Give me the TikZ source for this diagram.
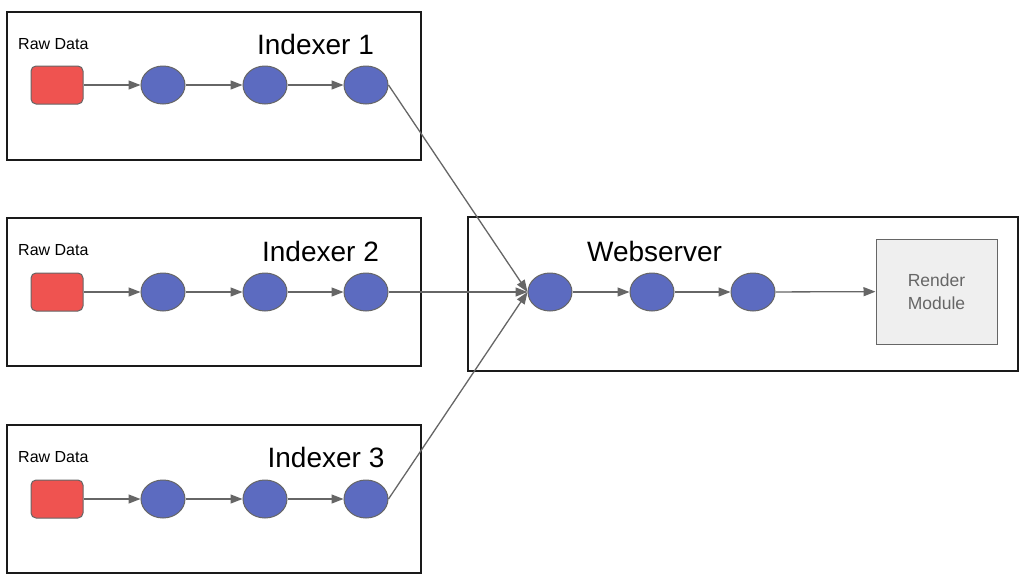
\documentclass[tikz,border=0pt]{standalone}
\usepackage{fontspec}
\setmainfont{Liberation Sans}
\usetikzlibrary{arrows.meta,shapes.geometric}
\definecolor{boxline}{HTML}{1A1A1A}
\definecolor{conn}{HTML}{666666}
\definecolor{rawred}{HTML}{EF5350}
\definecolor{stageblue}{HTML}{5C6BC0}
\definecolor{renderfill}{HTML}{EFEFEF}
\tikzset{
  groupbox/.style={draw=boxline, line width=1.4pt},
  rawbox/.style={draw=conn, fill=rawred, line width=1pt, rounded corners=5pt, minimum width=52pt, minimum height=38pt, inner sep=0pt},
  stage/.style={ellipse, draw=conn, fill=stageblue, line width=1pt, minimum width=44pt, minimum height=38pt, inner sep=0pt},
  renderbox/.style={draw=conn, fill=renderfill, line width=1pt, minimum width=121pt, minimum height=105pt, inner sep=0pt, align=center, text=conn, font=\fontsize{17.5}{23}\selectfont},
  smalllabel/.style={inner sep=0pt, font=\fontsize{16}{18}\selectfont},
  biglabel/.style={inner sep=0pt, font=\fontsize{28}{30}\selectfont},
  conn/.style={draw=conn, line width=1.3pt, -{Triangle[length=12pt,width=9pt]}}
}
\begin{document}
\begin{tikzpicture}[x=1pt,y=-1pt]
\useasboundingbox (0,0) rectangle (1029,587);
\fill[white] (0,0) rectangle (1029,587);
% group boxes
\draw[groupbox] (7,12) rectangle (421,160);
\draw[groupbox] (7,218) rectangle (421,366);
\draw[groupbox] (7,425) rectangle (421,573);
\draw[groupbox] (468,217) rectangle (1018,371);
% labels
\node[smalllabel, anchor=west] (rd1) at (18,44) {Raw Data};
\node[smalllabel, anchor=west] (rd2) at (18,250) {Raw Data};
\node[smalllabel, anchor=west] (rd3) at (18,457) {Raw Data};
\node[biglabel] (t1) at (315.5,44) {Indexer 1};
\node[biglabel] (t2) at (320.5,251) {Indexer 2};
\node[biglabel] (t3) at (326,457) {Indexer 3};
\node[biglabel] (tw) at (654.5,251) {Webserver};
% indexer 1
\node[rawbox] (r1) at (57,85) {};
\node[stage] (i1a) at (163,85) {};
\node[stage] (i1b) at (265,85) {};
\node[stage] (i1c) at (366,85) {};
% indexer 2
\node[rawbox] (r2) at (57,292) {};
\node[stage] (i2a) at (163,292) {};
\node[stage] (i2b) at (265,292) {};
\node[stage] (i2c) at (366,292) {};
% indexer 3
\node[rawbox] (r3) at (57,499) {};
\node[stage] (i3a) at (163,499) {};
\node[stage] (i3b) at (265,499) {};
\node[stage] (i3c) at (366,499) {};
% webserver
\node[stage] (w1) at (550,292) {};
\node[stage] (w2) at (652,292) {};
\node[stage] (w3) at (753,292) {};
\node[renderbox] (rm) at (936.5,291.5) {Render\\Module};
% connectors
\draw[conn] (r1) -- (i1a);
\draw[conn] (i1a) -- (i1b);
\draw[conn] (i1b) -- (i1c);
\draw[conn] (r2) -- (i2a);
\draw[conn] (i2a) -- (i2b);
\draw[conn] (i2b) -- (i2c);
\draw[conn] (r3) -- (i3a);
\draw[conn] (i3a) -- (i3b);
\draw[conn] (i3b) -- (i3c);
\draw[conn] (i1c.east) -- (w1.west);
\draw[conn] (i2c.east) -- (w1.west);
\draw[conn] (i3c.east) -- (w1.west);
\draw[conn] (w1) -- (w2);
\draw[conn] (w2) -- (w3);
\draw[conn] (w3) -- (rm);
\end{tikzpicture}
\end{document}
